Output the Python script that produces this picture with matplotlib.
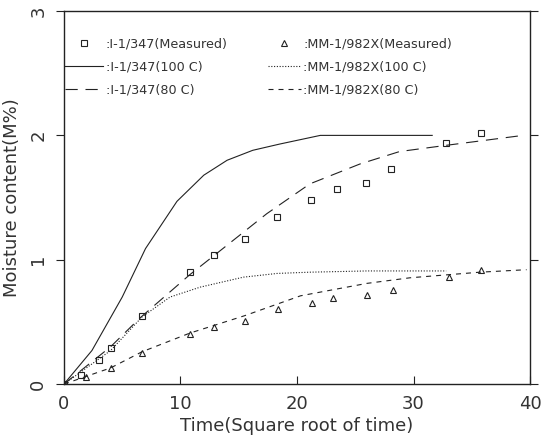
import matplotlib.pyplot as plt

# measured points
t_i347 = [0.0, 1.5, 3.0, 4.0, 6.7, 10.8, 12.9, 15.5, 18.3, 21.2, 23.4, 25.9, 28.1, 32.8, 35.8]
m_i347 = [0.0, 0.07, 0.19, 0.29, 0.55, 0.90, 1.04, 1.17, 1.34, 1.48, 1.57, 1.62, 1.73, 1.94, 2.02]

t_mm982 = [0.0, 1.9, 4.0, 6.7, 10.8, 12.9, 15.5, 18.4, 21.3, 23.1, 26.0, 28.2, 33.0, 35.8]
m_mm982 = [0.0, 0.06, 0.13, 0.25, 0.40, 0.46, 0.51, 0.60, 0.65, 0.69, 0.72, 0.76, 0.86, 0.92]

# model curves
t_i347_100 = [0, 2.4, 5.0, 7.0, 9.7, 12.0, 14.0, 16.2, 18.5, 22.0, 31.6]
m_i347_100 = [0, 0.27, 0.70, 1.09, 1.47, 1.68, 1.80, 1.88, 1.93, 2.00, 2.00]

t_i347_80 = [0, 4.0, 6.5, 10.8, 13.1, 17.4, 21.1, 25.4, 28.8, 32.8, 39.4]
m_i347_80 = [0, 0.30, 0.53, 0.88, 1.05, 1.37, 1.61, 1.77, 1.87, 1.92, 2.00]

t_mm982_100 = [0, 4.0, 6.7, 9.1, 11.7, 15.4, 18.3, 21.1, 26.0, 32.8]
m_mm982_100 = [0, 0.27, 0.54, 0.70, 0.78, 0.86, 0.89, 0.90, 0.91, 0.91]

t_mm982_80 = [0, 4.0, 6.7, 10.8, 15.5, 20.3, 26.0, 29.7, 35.7, 39.7]
m_mm982_80 = [0, 0.13, 0.26, 0.41, 0.55, 0.71, 0.81, 0.855, 0.90, 0.92]

ink = "#222222"
txt = "#333333"
plt.rcParams['font.family'] = ['DejaVu Sans']

fig = plt.figure(figsize=(5.42, 4.41), dpi=100)
ax = fig.add_axes([0.118, 0.129, 0.860, 0.846])

l1, = ax.plot(t_i347, m_i347, ls='none', marker='s', ms=5, mfc='none', mec=ink, mew=0.8,
              label=':I-1/347(Measured)')
l2, = ax.plot(t_i347_100, m_i347_100, color=ink, lw=0.8, label=':I-1/347(100 C)')
l3, = ax.plot(t_i347_80, m_i347_80, color=ink, lw=0.8, ls=(0, (11, 7)), label=':I-1/347(80 C)')
l4, = ax.plot(t_mm982, m_mm982, ls='none', marker='^', ms=5, mfc='none', mec=ink, mew=0.8,
              label=':MM-1/982X(Measured)')
l5, = ax.plot(t_mm982_100, m_mm982_100, color=ink, lw=0.8, ls=(0, (1, 1.5)), label=':MM-1/982X(100 C)')
l6, = ax.plot(t_mm982_80, m_mm982_80, color=ink, lw=0.8, ls=(0, (4.5, 4.5)), label=':MM-1/982X(80 C)')

ax.set_xlim(0, 40)
ax.set_ylim(0, 3)
ax.set_xticks([0, 10, 20, 30, 40])
ax.set_yticks([0, 1, 2, 3])
ax.tick_params(axis='x', direction='in', length=6, labelsize=13, pad=8, colors=ink, labelcolor=txt)
ax.tick_params(axis='y', direction='out', length=6, labelsize=13, pad=6, colors=ink, labelcolor=txt,
               right=True, labelrotation=90)
for lab in ax.get_yticklabels():
    lab.set_va('center')
for s in ax.spines.values():
    s.set_color(ink)
    s.set_linewidth(1.0)

ax.set_xlabel('Time(Square root of time)', fontsize=13, color=txt, labelpad=3)
ax.set_ylabel('Moisture content(M%)', fontsize=13, color=txt, labelpad=6)

leg_kw = dict(loc='upper left', frameon=False, fontsize=9.2, handletextpad=0.2,
              labelspacing=0.8, borderpad=0, borderaxespad=0, numpoints=1, labelcolor=txt)
leg1 = ax.legend(handles=[l1, l2, l3], bbox_to_anchor=(0.002, 0.93), handlelength=3.0, **leg_kw)
ax.add_artist(leg1)
ax.legend(handles=[l4, l5, l6], bbox_to_anchor=(0.437, 0.93), handlelength=2.6, **leg_kw)

fig.savefig('out.png', dpi=100)
